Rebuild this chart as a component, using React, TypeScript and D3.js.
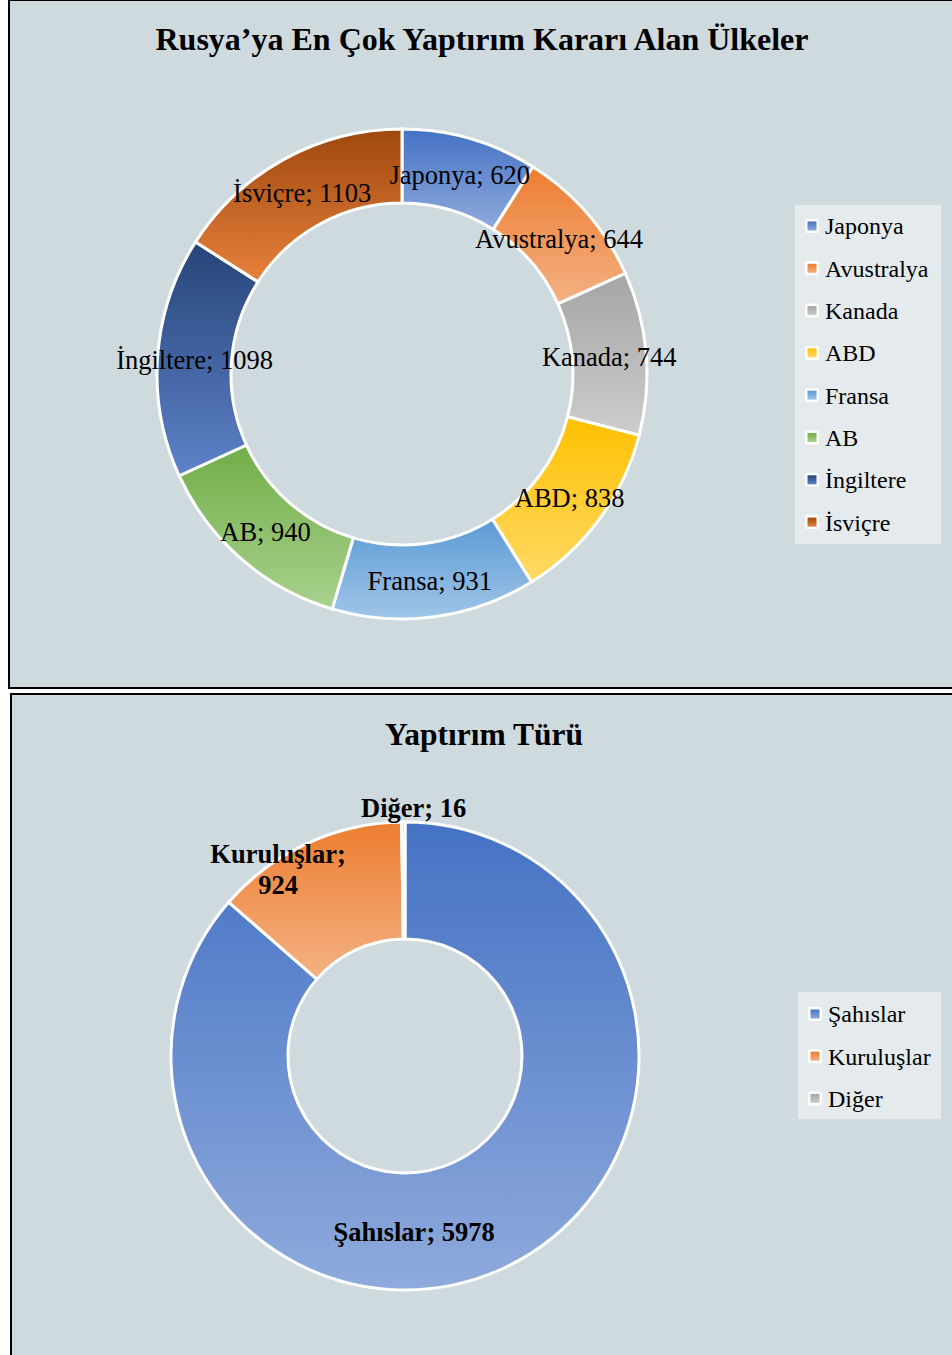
import { useMemo } from 'react';
import * as d3 from 'd3';

// chart 1: countries with most sanctions against Russia
const countries = ['Japonya', 'Avustralya', 'Kanada', 'ABD', 'Fransa', 'AB', 'İngiltere', 'İsviçre'];
const countryValues = [620, 644, 744, 838, 931, 940, 1098, 1103];
const countryColors = [
  ['#4472C4', '#8FAADC'],
  ['#ED7D31', '#F4B183'],
  ['#A5A5A5', '#CDCDCD'],
  ['#FFC000', '#FFDA66'],
  ['#5B9BD5', '#A0C5E8'],
  ['#70AD47', '#A9D18E'],
  ['#264478', '#5E82C9'],
  ['#9E480E', '#E8813C'],
];

// chart 2: sanction type
const types = ['Şahıslar', 'Kuruluşlar', 'Diğer'];
const typeValues = [5978, 924, 16];
const typeColors = [
  ['#4472C4', '#8FAADC'],
  ['#ED7D31', '#F4B183'],
  ['#A5A5A5', '#CDCDCD'],
];
// label anchors for chart 2 (angle in degrees from 12 o'clock, radius)
const typeLabelPos = [
  [177, 176],
  [326, 227],
  [2, 248],
];

const W = 952;
const H = 1355;
const BG = '#CFDADF';
const FONT = "'Liberation Serif', 'Times New Roman', serif";

const Gradient = ({ id, c }: { id: string; c: string[] }) => (
  <linearGradient id={id} x1="0" y1="0" x2="0" y2="1">
    <stop offset="0%" stopColor={c[0]} />
    <stop offset="100%" stopColor={c[1]} />
  </linearGradient>
);

const Legend = ({ x, y, w, h, rowY, names, prefix, markX, textX, size }: any) => (
  <g>
    <rect x={x} y={y} width={w} height={h} fill="#fff" fillOpacity={0.45} />
    {names.map((n: string, i: number) => (
      <g key={n}>
        <rect x={markX - 7} y={rowY(i) - 7} width={14} height={14} rx={2} fill="#fff" fillOpacity={0.9} />
        <rect x={markX - 4.5} y={rowY(i) - 4.5} width={9} height={9} fill={`url(#${prefix}${i})`} />
        <text x={textX} y={rowY(i)} dy="0.35em" fontSize={size} fontFamily={FONT} fill="#000">{n}</text>
      </g>
    ))}
  </g>
);

export default function App() {
  const pie = d3.pie<number>().sort(null).value(d => d);

  const arcs1 = useMemo(() => pie(countryValues), []);
  const arcs2 = useMemo(() => pie(typeValues), []);

  const cx1 = 402, cy1 = 374;
  const arc1 = d3.arc<d3.PieArcDatum<number>>().innerRadius(171).outerRadius(245);
  const cx2 = 405, cy2 = 1056;
  const arc2 = d3.arc<d3.PieArcDatum<number>>().innerRadius(117).outerRadius(234);

  const polar = (deg: number, r: number) => {
    const a = (deg * Math.PI) / 180;
    return [r * Math.sin(a), -r * Math.cos(a)];
  };

  return (
    <svg width={W} height={H} style={{ position: 'absolute', left: 0, top: 0 }}>
      <defs>
        {countryColors.map((c, i) => <Gradient key={i} id={`g1_${i}`} c={c} />)}
        {typeColors.map((c, i) => <Gradient key={i} id={`g2_${i}`} c={c} />)}
      </defs>
      <rect x={0} y={0} width={W} height={H} fill="#fff" />

      {/* panel 1 */}
      <rect x={9} y={0} width={W + 10} height={688} fill={BG} stroke="#000" strokeWidth={2} />
      <text x={482} y={50} textAnchor="middle" fontSize={32} fontWeight="bold" fontFamily={FONT}>
        Rusya’ya En Çok Yaptırım Kararı Alan Ülkeler
      </text>
      <g transform={`translate(${cx1},${cy1})`}>
        {arcs1.map((d, i) => (
          <path key={i} d={arc1(d) as string} fill={`url(#g1_${i})`} stroke="#fff" strokeWidth={3} />
        ))}
        {arcs1.map((d, i) => {
          const [x, y] = arc1.centroid(d);
          return (
            <text key={i} x={x} y={y} dy="0.38em" textAnchor="middle" fontSize={26.5} fontFamily={FONT} fill="#000">
              {`${countries[i]}; ${countryValues[i]}`}
            </text>
          );
        })}
      </g>
      <Legend x={795} y={205} w={146} h={339} rowY={(i: number) => 226 + i * 42.3}
        names={countries} prefix="g1_" markX={812} textX={825} size={24} />

      {/* panel 2 */}
      <rect x={11} y={694} width={W + 10} height={H} fill={BG} stroke="#000" strokeWidth={2} />
      <text x={484} y={745} textAnchor="middle" fontSize={31.5} fontWeight="bold" fontFamily={FONT}>
        Yaptırım Türü
      </text>
      <g transform={`translate(${cx2},${cy2})`}>
        {arcs2.map((d, i) => (
          <path key={i} d={arc2(d) as string} fill={`url(#g2_${i})`} stroke="#fff" strokeWidth={3} />
        ))}
        {arcs2.map((d, i) => {
          const [x, y] = polar(typeLabelPos[i][0], typeLabelPos[i][1]);
          if (types[i] === 'Kuruluşlar') {
            return (
              <text key={i} x={x} y={y} textAnchor="middle" fontSize={26.5} fontWeight="bold" fontFamily={FONT}>
                <tspan x={x} dy="-0.17em">{`${types[i]};`}</tspan>
                <tspan x={x} dy="1.17em">{typeValues[i]}</tspan>
              </text>
            );
          }
          return (
            <text key={i} x={x} y={y} dy="0.35em" textAnchor="middle" fontSize={26.5} fontWeight="bold" fontFamily={FONT}>
              {`${types[i]}; ${typeValues[i]}`}
            </text>
          );
        })}
      </g>
      <Legend x={798} y={992} w={143} h={127} rowY={(i: number) => 1014 + i * 42.2}
        names={types} prefix="g2_" markX={815} textX={828} size={24} />
    </svg>
  );
}
